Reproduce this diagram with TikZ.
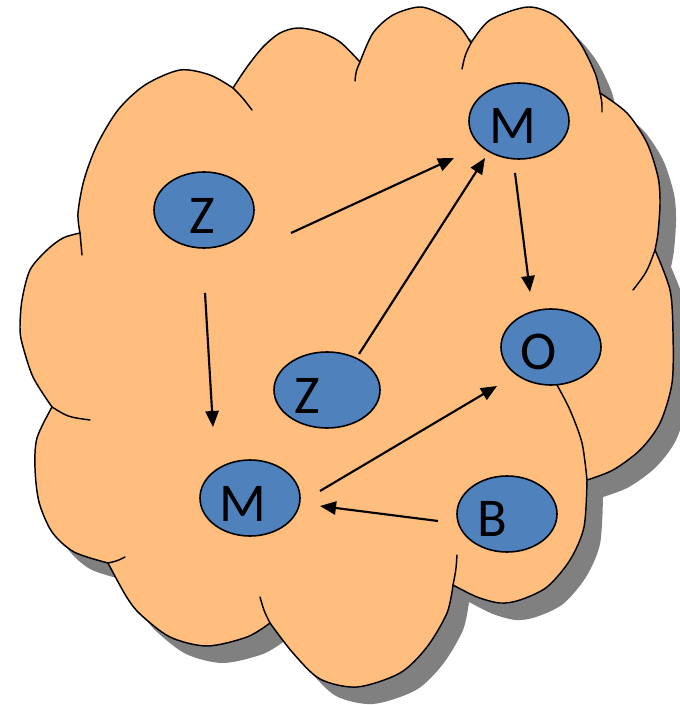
\documentclass[tikz,border=0pt]{standalone}
\usepackage{fontspec}
\setmainfont{Carlito}
\usetikzlibrary{shapes.geometric,arrows.meta}
\definecolor{cloudfill}{HTML}{FFBD7E}
\definecolor{nodeblue}{HTML}{4F81BD}
\definecolor{shadowgray}{HTML}{808080}
\newcommand\mycloudoutline{%
plot[smooth] coordinates {(80,233) (78,213) (84,180) (97,145) (118,110) (145,85) (180,70) (210,75) (233,88)}
-- plot[smooth] coordinates {(233,88) (247,67) (263,47) (280,33) (298,28) (320,32) (340,42) (360,62)}
-- plot[smooth] coordinates {(360,62) (373,33) (393,15) (420,7) (443,15) (460,27) (471,43)}
-- plot[smooth] coordinates {(471,43) (490,20) (528,7) (557,17) (580,43) (595,73) (600,93)}
-- plot[smooth] coordinates {(600,93) (627,113) (647,143) (658,177) (660,203) (658,233) (655,250)}
-- plot[smooth] coordinates {(655,250) (670,290) (673,333) (672,383) (660,423) (640,450) (613,470) (587,480)}
-- plot[smooth] coordinates {(587,480) (584,527) (570,560) (547,587) (520,600) (500,603) (477,597) (453,585)}
-- plot[smooth] coordinates {(453,585) (447,613) (427,647) (400,673) (357,687) (320,679) (293,653) (270,623)}
-- plot[smooth] coordinates {(270,623) (247,637) (207,646) (170,637) (140,614) (126,596) (108,563)}
-- plot[smooth] coordinates {(108,563) (74,552) (52,532) (39,502) (35,468) (37,438) (52,407)}
-- plot[smooth] coordinates {(52,407) (33,377) (22,343) (20,327) (22,300) (30,270) (47,250) (63,238) (80,233)}
-- cycle}
\begin{document}
\begin{tikzpicture}[x=0.75pt,y=-0.75pt,
  bubble/.style={ellipse, draw=black, line width=1.2pt, fill=nodeblue,
    minimum width=75pt, minimum height=57pt, inner sep=0pt},
  lett/.style={font=\fontsize{41}{41}\selectfont, inner sep=0pt},
  conn/.style={line width=1.6pt, -{Triangle[length=12pt,width=10pt]}},
  cloudline/.style={draw=black, line width=1.1pt, line join=round, line cap=round}]
\useasboundingbox (0,0) rectangle (680,705);
% shadow and cloud
\fill[shadowgray, shift={(16,17)}] \mycloudoutline;
\filldraw[fill=cloudfill, cloudline] \mycloudoutline;
% inner strokes of the cloud
\draw[cloudline] (80,233) .. controls (81,244) .. (82,255);
\draw[cloudline] (233,88) .. controls (242,97) .. (252,110);
\draw[cloudline] (355,81) .. controls (356,71) .. (360,62);
\draw[cloudline] (462,69) .. controls (465,55) .. (471,43);
\draw[cloudline] (600,93) .. controls (602,102) .. (602,112);
\draw[cloudline] (655,250) .. controls (647,272) .. (633,290);
\draw[cloudline] plot[smooth] coordinates {(557,385) (570,410) (582,443) (587,480)};
\draw[cloudline] (457,555) .. controls (456,570) .. (453,585);
\draw[cloudline] (270,623) .. controls (264,611) .. (260,597);
\draw[cloudline] (108,563) .. controls (117,561) .. (125,557);
\draw[cloudline] (52,407) .. controls (68,417) .. (90,420);
% nodes
\node[bubble, label={[lett,xshift=-1.5pt,yshift=-4.5pt]center:Z}] (z1) at (204,210) {};
\node[bubble, label={[lett,xshift=-4.9pt,yshift=-3.4pt]center:M}] (m1) at (519,121) {};
\node[bubble, label={[lett,xshift=-9pt,yshift=-3.8pt]center:O}] (o) at (551,347) {};
\node[bubble, minimum width=79.5pt, label={[lett,xshift=-15pt,yshift=-4.5pt]center:Z}] (z2) at (327,390) {};
\node[bubble, label={[lett,xshift=-5.2pt,yshift=-4.1pt]center:M}] (m2) at (250,498) {};
\node[bubble, label={[lett,xshift=-11.2pt,yshift=-3.8pt]center:B}] (b) at (507,514) {};
% connector ends
\coordinate (a1s) at (291,233); \coordinate (a1e) at (454,158);
\coordinate (a2s) at (359,354); \coordinate (a2e) at (485,158);
\coordinate (a3s) at (515,173); \coordinate (a3e) at (530,292);
\coordinate (a4s) at (205,293); \coordinate (a4e) at (213,427);
\coordinate (a5s) at (320,491); \coordinate (a5e) at (497,386);
\coordinate (a6s) at (438,521); \coordinate (a6e) at (320,506);
\draw[conn] (a1s) -- (a1e);
\draw[conn] (a2s) -- (a2e);
\draw[conn] (a3s) -- (a3e);
\draw[conn] (a4s) -- (a4e);
\draw[conn] (a5s) -- (a5e);
\draw[conn] (a6s) -- (a6e);
\end{tikzpicture}
\end{document}
